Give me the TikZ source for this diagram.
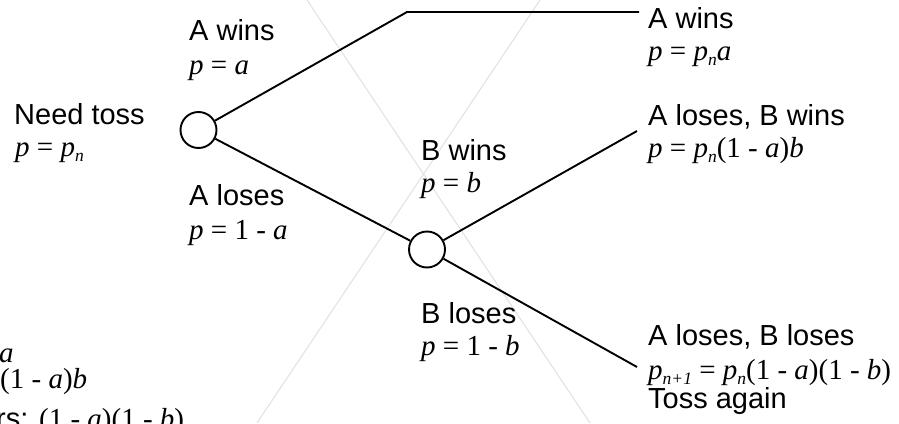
\documentclass[tikz,border=0pt]{standalone}
\usepackage{fontspec}
\setmainfont{Liberation Sans}
\newfontfamily\tms{Liberation Serif}
\newcommand\fs{\fontsize{29}{34}\selectfont}
\newcommand\iv[1]{{\itshape #1}}
\newcommand\sbs[1]{\raisebox{-5pt}{\fontsize{17.5}{20}\selectfont\itshape #1}}
\begin{document}
\begin{tikzpicture}[x=1pt,y=-1pt,
  lbl/.style={anchor=base west,inner sep=0pt,font=\fs},
  frm/.style={anchor=base west,inner sep=0pt,font=\fs\tms},
  toss/.style={circle,draw,line width=1.9pt,minimum size=36pt,inner sep=0pt},
  branch/.style={line width=1.9pt},
  faint/.style={draw=black!12,line width=1pt}]
\useasboundingbox (0,0) rectangle (899,423);
\clip (0,0) rectangle (899,423);
% faint background lines
\coordinate (f1a) at (307,0);
\coordinate (f1b) at (590,423);
\coordinate (f2a) at (540,0);
\coordinate (f2b) at (257,423);
\draw[faint] (f1a) -- (f1b);
\draw[faint] (f2a) -- (f2b);
% toss nodes
\node[toss] (c1) at (198.5,130) {};
\node[toss] (c2) at (427,249.5) {};
\coordinate (w1) at (407,12);
\coordinate (w2) at (639,12);
\coordinate (bw) at (637,131);
\coordinate (bl) at (637,367);
\draw[branch] (c1) -- (w1) -- (w2);
\draw[branch] (c1) -- (c2);
\draw[branch] (c2) -- (bw);
\draw[branch] (c2) -- (bl);
% labels
\node[lbl] (nt) at (14,124) {Need toss};
\node[frm] (ntp) at (15,156) {\iv{p} = \iv{p}\sbs{n}};
\node[lbl] (aw) at (189,40) {A wins};
\node[frm] (awp) at (189,74) {\iv{p} = \iv{a}};
\node[lbl] (al) at (189,205) {A loses};
\node[frm] (alp) at (189,239) {\iv{p} = 1 - \iv{a}};
\node[lbl] (bwn) at (421,160) {B wins};
\node[frm] (bwp) at (421,192) {\iv{p} = \iv{b}};
\node[lbl] (bln) at (421,323) {B loses};
\node[frm] (blp) at (421,355) {\iv{p} = 1 - \iv{b}};
\node[lbl] (raw) at (648,28) {A wins};
\node[frm] (rawp) at (648,60) {\iv{p} = \iv{p}\sbs{n}\iv{a}};
\node[lbl] (ralbw) at (648,125) {A loses, B wins};
\node[frm] (ralbwp) at (648,157) {\iv{p} = \iv{p}\sbs{n}(1 - \iv{a})\iv{b}};
\node[lbl] (ralbl) at (648,345) {A loses, B loses};
\node[frm] (ralblp) at (648,379) {\iv{p}\sbs{n+1} = \iv{p}\sbs{n}(1 - \iv{a})(1 - \iv{b})};
\node[lbl] (ta) at (648,408) {Toss again};
% partly visible notes at the lower left
\node[frm] (s1) at (-1,362) {\iv{a}};
\node[frm] (s2) at (0,388) {(1 - \iv{a})\iv{b}};
\node[lbl] (s3) at (-4,428) {rs: {\tms(1 - \iv{a})(1 - \iv{b})}};
\end{tikzpicture}
\end{document}
